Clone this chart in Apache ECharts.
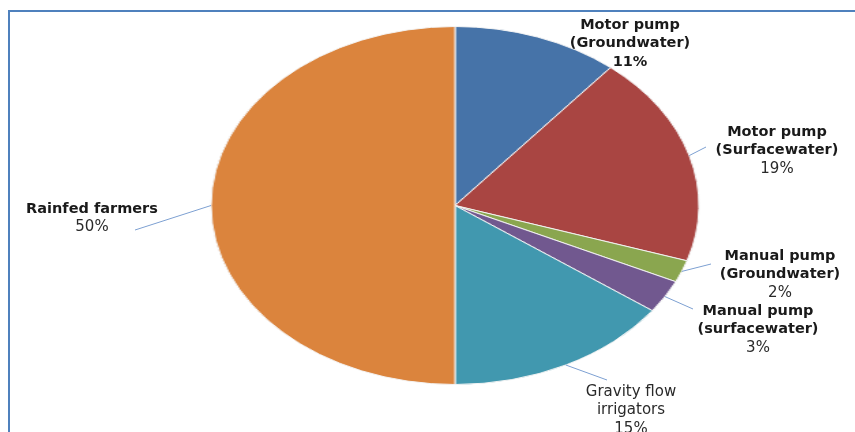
<!DOCTYPE html>
<html><head><meta charset="utf-8">
<script src="https://cdn.jsdelivr.net/npm/echarts/dist/echarts.min.js"></script>
<style>
html,body{margin:0;padding:0;background:#fff;}
#wrap{position:relative;width:855px;height:432px;overflow:hidden;background:#fff;}
#pie,#lab{position:absolute;left:0;top:0;width:855px;height:432px;}
#pie{transform-origin:455px 205.5px;transform:scaleX(1.363);}
#frame{position:absolute;left:8px;top:10px;width:900px;height:500px;border-top:2px solid #4f81bd;border-left:2px solid #4f81bd;}
</style></head>
<body>
<div id="wrap"><div id="frame"></div><div id="pie"></div><div id="lab"></div></div>
<script>
const categories = ['Motor pump (Groundwater)', 'Motor pump (Surfacewater)', 'Manual pump (Groundwater)', 'Manual pump (surfacewater)', 'Gravity flow irrigators', 'Rainfed farmers'];
const values = [11, 19, 2, 3, 15, 50];
const labelTexts = [['Motor pump', '(Groundwater)'], ['Motor pump', '(Surfacewater)'], ['Manual pump', '(Groundwater)'], ['Manual pump', '(surfacewater)'], ['Gravity flow', 'irrigators'], ['Rainfed farmers']];
const colors = ['#4673a8', '#a94542', '#8aa64f', '#71588f', '#4198af', '#db843d'];

const CX = 455, CY = 205.5, R = 179, K = 1.363;
// label styling: [centerX, topY, bold name?, bold value?, lineEnd]
const labelStyle = [
  {x: 630, y: 15.5, bn: true, bv: true, end: null},
  {x: 777, y: 122.5, bn: true, bv: false, end: [706, 147]},
  {x: 780, y: 246.5, bn: true, bv: false, end: [711, 264]},
  {x: 758, y: 301.5, bn: true, bv: false, end: [693, 309]},
  {x: 631, y: 382.5, bn: false, bv: false, end: [607, 380]},
  {x: 92, y: 199.5, bn: true, bv: false, end: [135, 230]}
];

const data = categories.map((c, i) => ({name: c, value: values[i], itemStyle: {color: colors[i]}}));

const pieChart = echarts.init(document.getElementById('pie'));
pieChart.setOption({
  animation: false,
  series: [{
    type: 'pie', center: [CX, CY], radius: R, startAngle: 90, clockwise: true,
    label: {show: false}, labelLine: {show: false}, silent: true,
    itemStyle: {borderColor: '#f4f4f4', borderWidth: 1},
    data: data
  }]
});

const labChart = echarts.init(document.getElementById('lab'));
labChart.setOption({
  animation: false,
  series: [{
    type: 'pie', center: [CX, CY], radius: R, startAngle: 90, clockwise: true, silent: true,
    avoidLabelOverlap: false,
    itemStyle: {color: 'rgba(0,0,0,0)'},
    label: {
      show: true, position: 'outside', fontFamily: 'DejaVu Sans', fontSize: 14.5, lineHeight: 18.5, color: '#1a1a1a',
      formatter: function (p) {
        const s = labelStyle[p.dataIndex];
        const lines = labelTexts[p.dataIndex].map(t => '{' + (s.bn ? 'b' : 'n') + '|' + t + '}');
        lines.push('{' + (s.bv ? 'b' : 'n') + '|' + p.value + '%}');
        return lines.join('\n');
      },
      rich: {
        b: {fontFamily: 'DejaVu Sans', fontSize: 14.5, fontWeight: 'bold', color: '#1a1a1a', lineHeight: 18.5, align: 'center'},
        n: {fontFamily: 'DejaVu Sans', fontSize: 15, color: '#2a2a2a', lineHeight: 18.5, align: 'center'}
      }
    },
    labelLine: {show: true, lineStyle: {color: '#7da0d2', width: 1}},
    labelLayout: function (params) {
      const s = labelStyle[params.dataIndex];
      const out = {x: s.x, y: s.y, align: 'center', verticalAlign: 'top'};
      const pts = params.labelLinePoints;
      if (s.end && pts) {
        const start = [CX + (pts[0][0] - CX) * K, pts[0][1]];
        out.labelLinePoints = [start, s.end, s.end];
      }
      return out;
    },
    data: categories.map((c, i) => ({name: c, value: values[i], labelLine: {show: !!labelStyle[i].end}}))
  }]
});
</script>
</body></html>
